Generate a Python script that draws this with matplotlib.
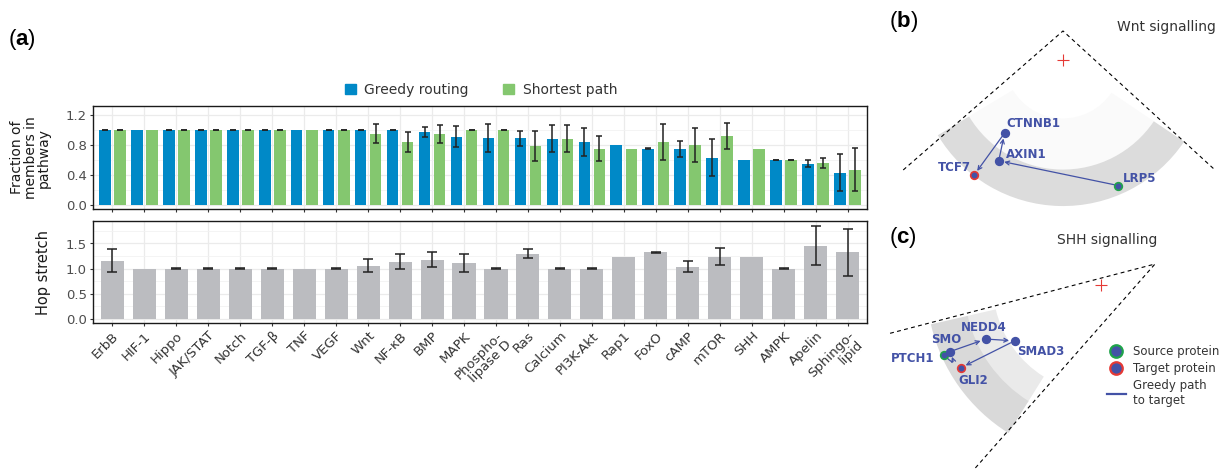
import matplotlib.pyplot as plt
from matplotlib.patches import Patch, Wedge
from matplotlib.lines import Line2D
import numpy as np

plt.rcParams['font.family'] = 'DejaVu Sans'
plt.rcParams['mathtext.fontset'] = 'custom'
plt.rcParams['mathtext.rm'] = 'Liberation Sans'
plt.rcParams['mathtext.bf'] = 'Liberation Sans:bold'

# ---- pathway statistics (panel a) ----
pathways = ['ErbB', 'HIF-1', 'Hippo', 'JAK/STAT', 'Notch', 'TGF-β', 'TNF', 'VEGF',
            'Wnt', 'NF-κB', 'BMP', 'MAPK', 'Phospho-\nlipase D', 'Ras', 'Calcium',
            'PI3K-Akt', 'Rap1', 'FoxO', 'cAMP', 'mTOR', 'SHH', 'AMPK', 'Apelin',
            'Sphingo-\nlipid']
nan = np.nan
greedy_frac = [1.0, 1.0, 1.0, 1.0, 1.0, 1.0, 1.0, 1.0, 1.0, 1.0, 0.97, 0.91,
               0.89, 0.89, 0.88, 0.84, 0.80, 0.75, 0.75, 0.63, 0.60, 0.60, 0.55, 0.43]
greedy_err = [0.003, nan, 0.003, 0.003, 0.003, 0.003, nan, 0.003, 0.003, 0.003, 0.07, 0.14,
              0.19, 0.10, 0.18, 0.19, nan, 0.003, 0.107, 0.25, nan, 0.003, 0.05, 0.25]
shortest_frac = [1.0, 1.0, 1.0, 1.0, 1.0, 1.0, 1.0, 1.0, 0.95, 0.84, 0.95, 1.0,
                 1.0, 0.79, 0.88, 0.75, 0.75, 0.84, 0.80, 0.92, 0.75, 0.60, 0.56, 0.47]
shortest_err = [0.003, nan, 0.003, 0.003, 0.003, 0.003, nan, 0.003, 0.125, 0.13, 0.12, 0.003,
                0.003, 0.20, 0.18, 0.17, nan, 0.235, 0.23, 0.17, nan, 0.003, 0.067, 0.29]
hop_stretch = [1.16, 1.0, 1.0, 1.0, 1.0, 1.0, 1.0, 1.0, 1.06, 1.14, 1.18, 1.12,
               1.0, 1.30, 1.0, 1.0, 1.24, 1.32, 1.04, 1.24, 1.24, 1.0, 1.46, 1.32]
hop_err = [0.23, nan, 0.003, 0.003, 0.003, 0.003, nan, 0.003, 0.127, 0.157, 0.15, 0.18,
           0.003, 0.09, 0.003, 0.003, nan, 0.003, 0.103, 0.17, nan, 0.003, 0.39, 0.47]

# ---- embeddings (panels b, c), unit = disk radius, origin = disk centre ----
wnt_nodes = ['CTNNB1', 'AXIN1', 'TCF7', 'LRP5']
wnt_x = [-0.40, -0.44, -0.61, 0.38]
wnt_y = [-0.50, -0.69, -0.79, -0.86]
wnt_path = ['LRP5', 'AXIN1', 'CTNNB1', 'TCF7']
wnt_bound_x = [-1.094, 0.0, 1.041]
wnt_bound_y = [-0.753, 0.199, -0.753]

shh_nodes = ['PTCH1', 'SMO', 'NEDD4', 'SMAD3', 'GLI2']
shh_x = [-0.87, -0.84, -0.64, -0.48, -0.78]
shh_y = [-0.39, -0.37, -0.30, -0.31, -0.46]
shh_path = ['PTCH1', 'SMO', 'NEDD4', 'SMAD3', 'GLI2']
shh_bound_x = [-1.172, 0.30, -0.772]
shh_bound_y = [-0.268, 0.117, -1.10]

BLUE = '#0089C7'
GREEN = '#84C76F'
GREY_BAR = '#BBBCC0'
NODE = '#4352A6'
TXT = '#4D4D4D'

W, H = 1227, 469
fig = plt.figure(figsize=(W / 100, H / 100), dpi=100)


def px_axes(x0, y0, x1, y1):
    return fig.add_axes([x0 / W, 1 - y1 / H, (x1 - x0) / W, (y1 - y0) / H])


def style_panel(ax, major, minor, ylim):
    n = len(pathways)
    ax.set_xlim(-0.6, n - 0.4)
    ax.set_ylim(*ylim)
    ax.set_yticks(major)
    ax.set_yticks(minor, minor=True)
    ax.set_xticks(np.arange(n))
    ax.grid(True, which='major', color='#EBEBEB', lw=0.9)
    ax.grid(True, which='minor', axis='y', color='#F2F2F2', lw=0.6)
    ax.set_axisbelow(True)
    for s in ax.spines.values():
        s.set_color('#1A1A1A')
        s.set_linewidth(1.0)
    ax.tick_params(which='major', length=2.5, width=0.8, color='#333333',
                   labelsize=9.5, labelcolor=TXT, pad=2)
    ax.tick_params(which='minor', length=0)
    ax.yaxis.set_label_coords(-0.054, 0.5)


def errbars(ax, x, y, err, cap):
    x = np.asarray(x, float)
    y = np.asarray(y, float)
    err = np.asarray(err, float)
    m = ~np.isnan(err)
    ax.errorbar(x[m], y[m], yerr=err[m], fmt='none', ecolor='#222222',
                elinewidth=1.1, capsize=cap, capthick=1.1)


x = np.arange(len(pathways))

# ---- top: fraction of members in pathway ----
ax1 = px_axes(93, 106, 867, 209)
off, bw = 0.235, 0.37
ax1.bar(x - off, greedy_frac, bw, color=BLUE, zorder=2)
ax1.bar(x + off, shortest_frac, bw, color=GREEN, zorder=2)
errbars(ax1, x - off, greedy_frac, greedy_err, 2.2)
errbars(ax1, x + off, shortest_frac, shortest_err, 2.2)
style_panel(ax1, [0, 0.4, 0.8, 1.2], [0.2, 0.6, 1.0], (-0.055, 1.32))
ax1.set_yticklabels(['0.0', '0.4', '0.8', '1.2'])
ax1.set_xticklabels([])
ax1.set_ylabel('Fraction of\nmembers in\npathway', fontsize=10, color='#1A1A1A',
               linespacing=0.95)

# ---- bottom: hop stretch ----
ax2 = px_axes(93, 221, 867, 323)
ax2.bar(x, hop_stretch, 0.72, color=GREY_BAR, zorder=2)
errbars(ax2, x, hop_stretch, hop_err, 3.3)
style_panel(ax2, [0, 0.5, 1.0, 1.5], [0.25, 0.75, 1.25, 1.75], (-0.09, 1.95))
ax2.set_yticklabels(['0.0', '0.5', '1.0', '1.5'])
ax2.set_xticklabels(pathways, rotation=45, ha='right', rotation_mode='anchor',
                    fontsize=9.5, color='#333333', linespacing=0.95)
ax2.set_ylabel('Hop stretch', fontsize=10.5, color='#1A1A1A')

fig.legend(handles=[Patch(color=BLUE), Patch(color=GREEN)],
           labels=['Greedy routing', 'Shortest path'], ncol=2, frameon=False,
           loc='center', bbox_to_anchor=(481 / W, 1 - 90 / H), fontsize=10,
           handlelength=0.8, handleheight=0.8, handletextpad=0.6,
           columnspacing=2.5, labelcolor='#333333')

fig.text(8 / W, 1 - 40 / H, r'($\mathbf{a}$)', fontsize=16, va='center',
         family='Liberation Sans')


def draw_embedding(ax, names, xs, ys, path, bx, by, cloud, labels, source, target):
    ax.set_axis_off()
    for r, t1, t2, w, c in cloud:
        ax.add_patch(Wedge((0, 0), r, t1, t2, width=w, facecolor=c, edgecolor='none',
                           zorder=1))
    ax.plot(bx, by, color='black', lw=0.8, ls=(0, (3.5, 3)), zorder=2)
    ax.plot([0], [0], marker='+', color='#E53935', ms=8, mew=0.8, zorder=3)
    pos = {n: (xx, yy) for n, xx, yy in zip(names, xs, ys)}
    for a, b in zip(path[:-1], path[1:]):
        rad = 3.0 if np.hypot(pos[a][0] - pos[b][0], pos[a][1] - pos[b][1]) < 0.05 else 0.0
        ax.annotate('', xy=pos[b], xytext=pos[a], zorder=4,
                    arrowprops=dict(arrowstyle='->', color=NODE, lw=0.9,
                                    shrinkA=3, shrinkB=4, mutation_scale=7,
                                    connectionstyle=f'arc3,rad={rad}'))
    for n in names:
        ec = '#1FA34A' if n == source else ('#E53935' if n == target else NODE)
        ax.plot(*pos[n], 'o', ms=5.5, mfc=NODE, mec=ec, mew=1.2, zorder=5)
        dx, dy, ha = labels[n]
        ax.annotate(n, pos[n], xytext=(dx, dy), textcoords='offset points',
                    ha=ha, va='center', fontsize=8.5, fontweight='bold',
                    color=NODE, zorder=6)


# ---- (b) Wnt signalling ----
axb = px_axes(880, 0, 1227, 230)
axb.set_xlim(-1.253, 1.123)
axb.set_ylim(-1.164, 0.411)
draw_embedding(axb, wnt_nodes, wnt_x, wnt_y, wnt_path, wnt_bound_x, wnt_bound_y,
               [(0.75, 211, 326, 0.35, '#FAFAFA'), (1.0, 211, 326, 0.25, '#DCDCDC')],
               {'CTNNB1': (1.5, 7, 'left'), 'AXIN1': (5, 4.5, 'left'),
                'TCF7': (-2, 6, 'right'), 'LRP5': (3, 5, 'left')},
               'LRP5', 'TCF7')
fig.text(1216 / W, 1 - 27 / H, 'Wnt signalling', ha='right', va='center',
         fontsize=10, color='#333333')
fig.text(889 / W, 1 - 21 / H, r'($\mathbf{b}$)', fontsize=16, va='center',
         family='Liberation Sans')

# ---- (c) SHH signalling ----
axc = px_axes(880, 230, 1227, 469)
axc.set_xlim(-1.228, 0.7)
axc.set_ylim(-1.022, 0.306)
draw_embedding(axc, shh_nodes, shh_x, shh_y, shh_path, shh_bound_x, shh_bound_y,
               [(0.77, 193, 238, 0.17, '#EAEAEA'), (0.97, 193, 238, 0.21, '#D9D9D9')],
               {'SMO': (-2.5, 9, 'center'), 'NEDD4': (-1.3, 8, 'center'),
                'SMAD3': (1.5, -8, 'left'), 'PTCH1': (-7, -2, 'right'),
                'GLI2': (9, -9, 'center')},
               'PTCH1', 'GLI2')
fig.text(1107 / W, 1 - 240 / H, 'SHH signalling', ha='center', va='center',
         fontsize=10, color='#333333')
fig.text(889 / W, 1 - 237 / H, r'($\mathbf{c}$)', fontsize=16, va='center',
         family='Liberation Sans')

leg_handles = [
    Line2D([], [], ls='', marker='o', ms=9, mfc=NODE, mec='#1FA34A', mew=1.6),
    Line2D([], [], ls='', marker='o', ms=9, mfc=NODE, mec='#E53935', mew=1.6),
    Line2D([], [], color=NODE, lw=1.6),
]
axc.legend(leg_handles, ['Source protein', 'Target protein', 'Greedy path\nto target'],
           loc='upper left', bbox_to_anchor=((1107 - 880) / 347, 1 - (345 - 230) / 239),
           frameon=False, fontsize=8.5, handlelength=1.6, handletextpad=0.6,
           labelspacing=0.35, borderpad=0, borderaxespad=0, labelcolor='#333333')

fig.savefig('out.png', dpi=100)
